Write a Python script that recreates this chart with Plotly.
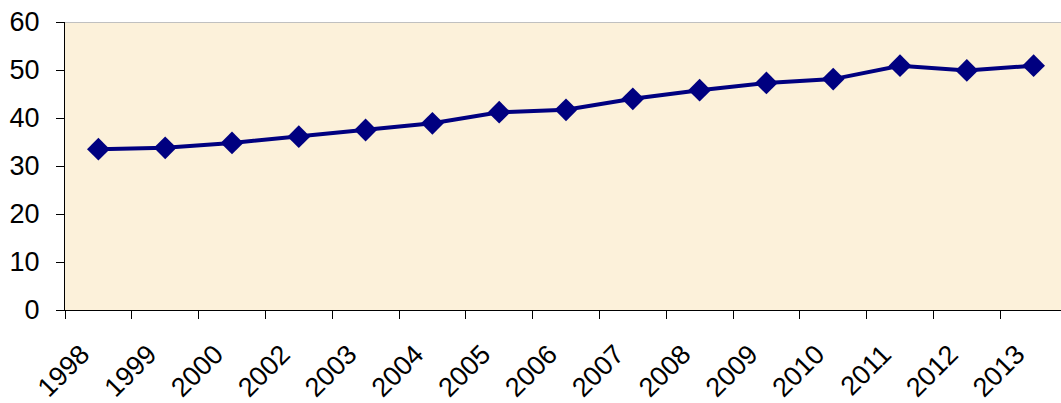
import plotly.graph_objects as go

# Yearly series values
years = ["1998", "1999", "2000", "2002", "2003", "2004", "2005", "2006",
         "2007", "2008", "2009", "2010", "2011", "2012", "2013"]
values = [33.5, 33.8, 34.8, 36.1, 37.5, 38.9, 41.2, 41.7,
          44.0, 45.8, 47.3, 48.1, 50.9, 49.9, 50.9]
y_ticks = [0, 10, 20, 30, 40, 50, 60]

navy = "#000080"
font = dict(family="Liberation Sans, Arial, sans-serif", size=27, color="#000000")

x_range = [-0.5, 14.41]
label_shift = 0.25  # category labels sit slightly left of the category centre

fig = go.Figure()
fig.add_trace(go.Scatter(
    x=years, y=values, mode="lines+markers",
    line=dict(color=navy, width=4),
    marker=dict(symbol="diamond", size=17.5, color=navy),
    showlegend=False, hoverinfo="x+y",
))
# carrier trace for the label axis (not visible)
fig.add_trace(go.Scatter(
    x=years, y=values, xaxis="x2", mode="markers",
    marker=dict(opacity=0), showlegend=False, hoverinfo="skip",
))

# light grey frame line along the top of the plot area
fig.add_shape(type="line", xref="paper", yref="y", x0=0, x1=1, y0=60, y1=60,
              line=dict(color="#c0c0c0", width=2))

fig.update_layout(
    width=1061, height=403,
    margin=dict(l=65, r=0, t=22, b=91),
    paper_bgcolor="#ffffff",
    plot_bgcolor="#FCF1DA",
    font=font,
    xaxis=dict(
        type="category", range=x_range,
        tickson="boundaries", ticks="outside", ticklen=8, tickcolor="#000000",
        showticklabels=False, showgrid=False, showline=True,
        linecolor="#000000", linewidth=1,
    ),
    xaxis2=dict(
        type="category", overlaying="x", side="bottom", anchor="y",
        range=[x_range[0] + label_shift, x_range[1] + label_shift],
        ticks="", showgrid=False, showline=False, tickangle=-45,
        tickfont=font, ticklabelstandoff=22,
    ),
    yaxis=dict(
        range=[0, 60], tickvals=y_ticks, ticks="outside", ticklen=8,
        tickcolor="#000000", showgrid=False, zeroline=False, showline=True,
        linecolor="#000000", linewidth=1, tickfont=font, ticklabelstandoff=11,
    ),
)

fig.write_html("out.html")
